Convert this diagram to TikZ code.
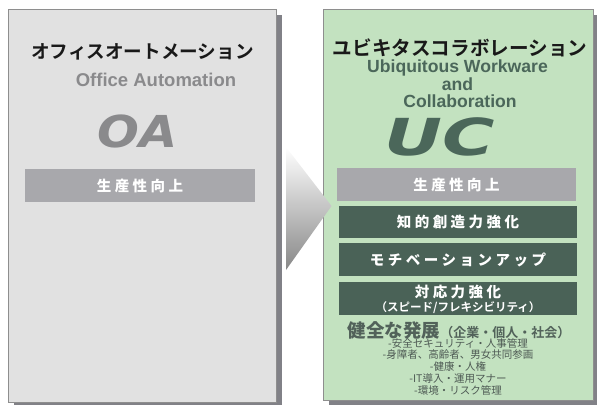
\documentclass[tikz,border=0pt]{standalone}
\usepackage{fontspec}
\setmainfont{Liberation Sans}
\newfontfamily\jp{Noto Sans CJK JP}[BoldFont={Noto Sans CJK JP Bold}]
\newfontfamily\jpblk{Noto Sans CJK JP}[BoldFont={Noto Sans CJK JP Black}]
\newfontfamily\jpls{Noto Sans CJK JP}[BoldFont={Noto Sans CJK JP Black}, LetterSpace=24]
\newfontfamily\bigsans{DejaVu Sans}
\definecolor{lpanel}{HTML}{E1E1E1}
\definecolor{rpanel}{HTML}{C3E2C0}
\definecolor{pborder}{HTML}{8E8E8E}
\definecolor{pshadow}{HTML}{818187}
\definecolor{graybar}{HTML}{A8A8AC}
\definecolor{darkbar}{HTML}{4A6257}
\definecolor{oagray}{HTML}{8A8A8C}
\definecolor{ucgreen}{HTML}{4B675A}
\definecolor{smalltxt}{HTML}{4E5A54}
\definecolor{devtxt}{HTML}{52625A}
\tikzset{
  panelbox/.style={draw=pborder, line width=0.9pt},
  shadowbox/.style={fill=pshadow, draw=none},
  barbox/.style={draw=none, inner sep=0pt, text=white, font=\jpls\bfseries\fontsize{14.5}{16}\selectfont},
  gbar/.style={barbox, fill=graybar, minimum width=239pt, minimum height=33pt},
  dbar/.style={barbox, fill=darkbar, minimum width=238pt, minimum height=33pt},
  titlejp/.style={inner sep=0pt, text=black!90, font=\jp\bfseries\fontsize{18.6}{20}\selectfont},
  subtitle/.style={inner sep=0pt, anchor=base, text=ucgreen, font=\bfseries\fontsize{17.6}{19}\selectfont},
  bigabbr/.style={inner sep=0pt, anchor=base, font=\bigsans\bfseries\itshape},
}
\begin{document}
\begin{tikzpicture}[x=1pt,y=-1pt]
\useasboundingbox (0,0) rectangle (597,405);
% left panel
\path[shadowbox] (14,15) rectangle (282,405);
\path[panelbox, fill=lpanel] (8,9) rectangle (276,402);
% right panel
\path[shadowbox] (329,15) rectangle (597,405);
\path[panelbox, fill=rpanel] (323,9) rectangle (593,400);
% arrow
\shade[top color=white, bottom color=black!47] (286,147) -- (331.5,206) -- (286,270) -- cycle;

% left contents
\node[titlejp] (oajp) at (142.5,52) {オフィスオートメーション};
\node[inner sep=0pt, anchor=base, text=oagray, font=\bfseries\fontsize{18.5}{20}\selectfont] (oaen) at (156,86) {Office Automation};
\node[bigabbr, text=oagray] (oa) at (137.5,147) {\fontsize{44}{48}\selectfont\scalebox{1.12}[1]{OA}};
\node[gbar, minimum width=230pt] (oabar) at (140,185.5) {生産性向上};

% right contents
\node[titlejp, font=\jp\bfseries\fontsize{19.6}{21}\selectfont] (ucjp) at (460,48) {ユビキタスコラボレーション};
\node[subtitle] (ucen1) at (457.5,72) {Ubiquitous Workware};
\node[subtitle] (ucen2) at (457.5,90) {and};
\node[subtitle] (ucen3) at (460,107) {Collaboration};
\node[bigabbr, text=ucgreen] (uc) at (440,155) {\fontsize{51}{55}\selectfont\scalebox{1.4}[1]{UC}};
\node[gbar] (ucbar1) at (456.5,184.5) {生産性向上};
\node[dbar, minimum height=32pt] (ucbar2) at (458,222) {知的創造力強化};
\node[dbar] (ucbar3) at (458,259.5) {モチベーションアップ};
\node[dbar] (ucbar4) at (458,298.5) {};
\node[inner sep=0pt, text=white, font=\jpls\bfseries\fontsize{14.5}{16}\selectfont] (ucbar4a) at (458,292) {対応力強化};
\node[inner sep=0pt, text=white, font=\jp\bfseries\fontsize{11.5}{13}\selectfont] (ucbar4b) at (458,308) {（スピード/フレキシビリティ）};
\node[inner sep=0pt, text=devtxt, font=\jpblk\bfseries] (dev) at (459,330)
  {{\fontsize{18.5}{20}\selectfont 健全な発展}{\jp\bfseries\fontsize{13}{15}\selectfont （企業・個人・社会）}};
\node[inner sep=0pt, text=smalltxt, align=center, font=\jp\fontsize{10.5}{11.75}\selectfont] (list) at (458,366.5)
  {-安全セキュリティ・人事管理\\-身障者、高齢者、男女共同参画\\-健康・人権\\-IT導入・運用マナー\\-環境・リスク管理};
\end{tikzpicture}
\end{document}
